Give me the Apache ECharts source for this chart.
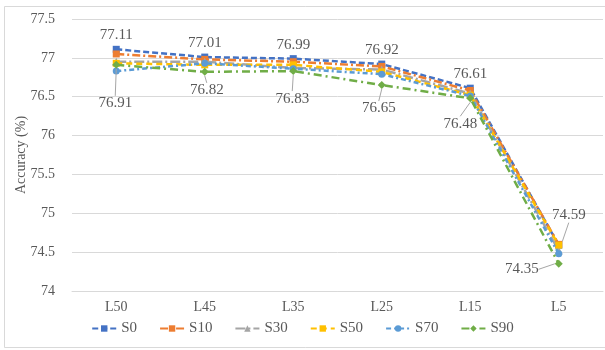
<!DOCTYPE html>
<html>
<head>
<meta charset="utf-8">
<script src="https://cdn.jsdelivr.net/npm/echarts@6/dist/echarts.min.js"></script>
<style>
  html, body { margin: 0; padding: 0; background: #fff; }
  #chart { width: 605px; height: 350px; }
</style>
</head>
<body>
<div id="chart"></div>
<script>
// Model size categories
const categories = ['L50', 'L45', 'L35', 'L25', 'L15', 'L5'];

// Accuracy (%) per sparsity setting
const s0  = [77.11, 77.01, 76.99, 76.92, 76.61, 74.59];
const s10 = [77.05, 76.98, 76.95, 76.89, 76.58, 74.60];
const s30 = [76.95, 76.95, 76.87, 76.85, 76.54, 74.52];
const s50 = [76.93, 76.91, 76.91, 76.82, 76.52, 74.59];
const s70 = [76.83, 76.93, 76.86, 76.79, 76.51, 74.48];
const s90 = [76.91, 76.82, 76.83, 76.65, 76.48, 74.35];

const seriesNames = ['S0', 'S10', 'S30', 'S50', 'S70', 'S90'];

// Y axis ticks
const yMin = 74, yMax = 77.5, yStep = 0.5;

const textColor = '#595959';
const font = '"Liberation Serif", "Times New Roman", serif';

// label offsets (pixels) for the annotated series; null = label stays put, no guide line
const s0LabelShift  = [null, null, null, null, null, [10, -16]];
const s90LabelShift = [[-1, 22], [2, 2], [-1, 11], [-3, 7], [-10, 9], [-37, -11]];

function lineSeries(name, data, color, symbol, dash, extra) {
  return Object.assign({
    name: name,
    type: 'line',
    data: data,
    symbol: symbol,
    symbolSize: symbol === 'diamond' ? 8 : (symbol === 'triangle' ? 8 : 7),
    itemStyle: { color: color },
    lineStyle: { color: color, width: 2.5, type: dash },
    emphasis: { disabled: true },
    animation: false
  }, extra || {});
}

const labelCommon = {
  show: true,
  color: textColor,
  fontFamily: font,
  fontSize: 15
};
const guideStyle = { color: '#a6a6a6', width: 1 };

// Wrap values so that only shifted labels get a guide line
function labelled(values, shifts) {
  return values.map(function (v, i) {
    return {
      value: v,
      labelLine: { show: shifts[i] !== null, lineStyle: guideStyle, length2: 0 }
    };
  });
}
function shiftFn(shifts) {
  return function (p) {
    const d = shifts[p.dataIndex];
    return d ? { dx: d[0], dy: d[1] } : {};
  };
}

const chart = echarts.init(document.getElementById('chart'), null, { renderer: 'canvas' });

chart.setOption({
  backgroundColor: '#fff',
  textStyle: { fontFamily: font },
  graphic: [{
    type: 'rect',
    shape: { x: 4.5, y: 6.5, width: 610, height: 341 },
    style: { fill: 'none', stroke: '#d9d9d9', lineWidth: 1 },
    silent: true
  }],
  grid: { left: 72, right: 2, top: 19, bottom: 59 },
  xAxis: {
    type: 'category',
    data: categories,
    boundaryGap: true,
    axisLine: { show: true, lineStyle: { color: '#d9d9d9' } },
    axisTick: { show: false },
    axisLabel: { color: textColor, fontFamily: font, fontSize: 14, margin: 9 }
  },
  yAxis: {
    type: 'value',
    min: yMin,
    max: yMax,
    interval: yStep,
    name: 'Accuracy (%)',
    nameLocation: 'middle',
    nameGap: 44,
    nameMoveOverlap: false,
    nameTextStyle: { color: textColor, fontFamily: font, fontSize: 14 },
    axisLine: { show: false },
    axisTick: { show: false },
    splitLine: { lineStyle: { color: '#d9d9d9', width: 1 } },
    axisLabel: { color: textColor, fontFamily: font, fontSize: 14, margin: 17 }
  },
  legend: {
    bottom: 9,
    left: 'center',
    itemWidth: 24,
    itemHeight: 8,
    itemGap: 22,
    textStyle: { color: textColor, fontFamily: font, fontSize: 15 },
    data: seriesNames
  },
  series: [
    lineSeries('S0', labelled(s0, s0LabelShift), '#4472C4', 'rect', [6, 3], {
      label: Object.assign({ position: 'top', distance: 3 }, labelCommon),
      labelLayout: shiftFn(s0LabelShift),
      z: 2
    }),
    lineSeries('S10', s10, '#ED7D31', 'rect', [8, 3, 2, 3], { z: 3 }),
    lineSeries('S30', s30, '#A5A5A5', 'triangle', [10, 3, 2, 3], { z: 4 }),
    lineSeries('S50', s50, '#FFC000', 'rect', [6, 4], { z: 5 }),
    lineSeries('S70', s70, '#5B9BD5', 'circle', [5, 3, 2, 3], { z: 6 }),
    lineSeries('S90', labelled(s90, s90LabelShift), '#70AD47', 'diamond', [8, 4, 2, 4], {
      label: Object.assign({ position: 'bottom', distance: 5 }, labelCommon),
      labelLayout: shiftFn(s90LabelShift),
      z: 7
    })
  ]
});
</script>
</body>
</html>
